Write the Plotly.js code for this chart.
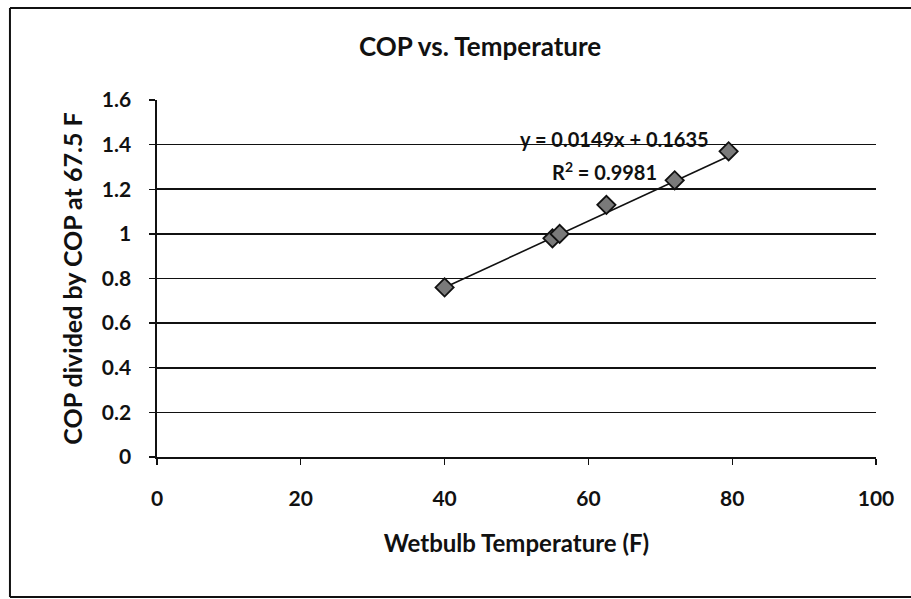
<!DOCTYPE html>
<html>
<head>
<meta charset="utf-8">
<script src="https://cdn.plot.ly/plotly-3.0.1.min.js"></script>
<style>
  html, body { margin: 0; padding: 0; background: #fff; }
  #chart { width: 911px; height: 599px; }
</style>
</head>
<body>
<div id="chart"></div>
<script>
// Data
const wetbulbTemp = [40, 55, 56, 62.5, 72, 79.5];
const copRatio    = [0.76, 0.98, 1.0, 1.13, 1.24, 1.37];

// Trendline reported on the chart
const trendSlope = 0.0149;
const trendIntercept = 0.1635;
const trendR2 = 0.9981;
const trendX = [Math.min(...wetbulbTemp), Math.max(...wetbulbTemp)];
const trendY = trendX.map(x => trendSlope * x + trendIntercept);

const xTicks = [0, 20, 40, 60, 80, 100];
const yTicks = [0, 0.2, 0.4, 0.6, 0.8, 1, 1.2, 1.4, 1.6];
const yTickText = ['0', '0.2', '0.4', '0.6', '0.8', '1', '1.2', '1.4', '1.6'];

const FONT = 'Lato, "Open Sans", sans-serif';

const traces = [
  {
    x: trendX, y: trendY, mode: 'lines', type: 'scatter',
    line: { color: '#111', width: 1.6 }, hoverinfo: 'skip', showlegend: false
  },
  {
    x: wetbulbTemp, y: copRatio, mode: 'markers', type: 'scatter',
    marker: { symbol: 'diamond', size: 14, color: '#7a7a7a', line: { color: '#111', width: 1.8 } },
    showlegend: false
  }
];

const layout = {
  width: 911, height: 599,
  margin: { l: 157, r: 35, t: 100, b: 142 },
  paper_bgcolor: '#fff', plot_bgcolor: '#fff',
  font: { family: FONT, color: '#111' },
  title: {
    text: '<b>COP vs. Temperature</b>',
    font: { family: FONT, size: 26, color: '#111' },
    x: 0.527, xref: 'container', xanchor: 'center',
    y: 0.921, yref: 'container', yanchor: 'middle'
  },
  xaxis: {
    range: [0, 100], tickvals: xTicks, ticktext: xTicks.map(String),
    showgrid: false, zeroline: false,
    showline: true, linecolor: '#111', linewidth: 1.6,
    ticks: 'outside', ticklen: 6, tickcolor: '#111', tickwidth: 1.4,
    ticklabelstandoff: 16,
    tickfont: { family: FONT, size: 21, color: '#111', weight: 'bold' },
    title: { text: '<b>Wetbulb Temperature (F)</b>', font: { family: FONT, size: 24, color: '#111' }, standoff: 26 },
    fixedrange: true
  },
  yaxis: {
    range: [0, 1.6], tickvals: yTicks, ticktext: yTickText,
    showgrid: true, gridcolor: '#111', gridwidth: 1.6,
    zeroline: false,
    showline: true, linecolor: '#111', linewidth: 1.6,
    ticks: 'outside', ticklen: 6, tickcolor: '#111', tickwidth: 1.4,
    ticklabelstandoff: 14,
    tickfont: { family: FONT, size: 21, color: '#111', weight: 'bold' },
    title: { text: '<b>COP divided by COP at 67.5 F</b>', font: { family: FONT, size: 25, color: '#111' }, standoff: 12 },
    fixedrange: true
  },
  annotations: [
    {
      x: 63.6, y: 1.425, xref: 'x', yref: 'y', showarrow: false,
      text: '<b>y = ' + trendSlope + 'x + ' + trendIntercept + '</b>',
      font: { family: FONT, size: 20, color: '#111' }, xanchor: 'center', yanchor: 'middle'
    },
    {
      x: 62.3, y: 1.28, xref: 'x', yref: 'y', showarrow: false,
      text: '<b>R<sup>2</sup> = ' + trendR2 + '</b>',
      font: { family: FONT, size: 20, color: '#111' }, xanchor: 'center', yanchor: 'middle'
    }
  ],
  shapes: [
    { type: 'line', xref: 'paper', yref: 'paper', x0: -0.2045, x1: -0.2045, y0: -0.392, y1: 1.2577, line: { color: '#111', width: 2 } },
    { type: 'line', xref: 'paper', yref: 'paper', x0: -0.2045, x1: 1.08, y0: 1.2577, y1: 1.2577, line: { color: '#111', width: 2 } },
    { type: 'line', xref: 'paper', yref: 'paper', x0: -0.2045, x1: 1.08, y0: -0.392, y1: -0.392, line: { color: '#111', width: 2 } }
  ]
};

Plotly.newPlot('chart', traces, layout, { displayModeBar: false, staticPlot: true });
</script>
</body>
</html>
